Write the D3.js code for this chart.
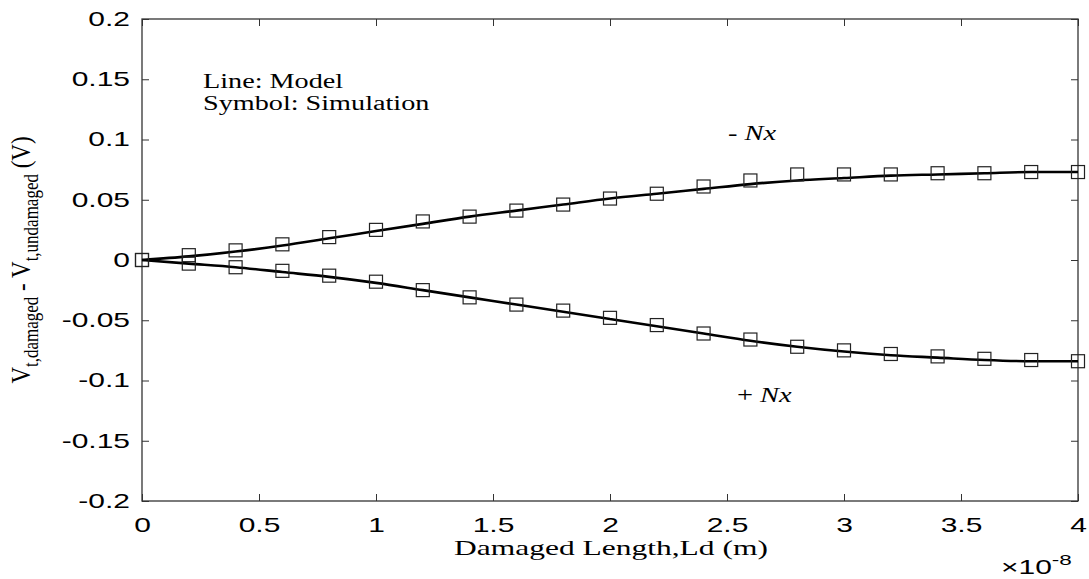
<!DOCTYPE html>
<html>
<head>
<meta charset="utf-8">
<script src="https://cdn.jsdelivr.net/npm/d3@7"></script>
<style>
  body { margin: 0; background: #fff; }
  .tick text { font-family: "Liberation Sans", Arial, sans-serif; font-size: 20px; fill: #000; }
  .serif { font-family: "Liberation Serif", "Times New Roman", serif; fill: #000; }
</style>
</head>
<body>
<svg id="chart" width="1089" height="579"></svg>
<script>
(function () {
  // damaged length, in units of 1e-8 m
  var lengths = [0, 0.2, 0.4, 0.6, 0.8, 1.0, 1.2, 1.4, 1.6, 1.8, 2.0,
    2.2, 2.4, 2.6, 2.8, 3.0, 3.2, 3.4, 3.6, 3.8, 4.0];

  // simulation (symbols)
  var simMinusNx = [0, 0.004, 0.008, 0.013, 0.019, 0.025, 0.032, 0.036, 0.041, 0.046, 0.051,
    0.055, 0.061, 0.066, 0.071, 0.071, 0.071, 0.072, 0.072, 0.073, 0.073];
  var simPlusNx = [0, -0.003, -0.006, -0.009, -0.013, -0.018, -0.025, -0.031, -0.037, -0.042, -0.048,
    -0.054, -0.061, -0.066, -0.072, -0.075, -0.078, -0.080, -0.082, -0.083, -0.084];

  // model (lines)
  var modelMinusNx = [0, 0.003, 0.007, 0.012, 0.018, 0.024, 0.030, 0.036, 0.041, 0.046, 0.051,
    0.055, 0.059, 0.063, 0.066, 0.068, 0.070, 0.071, 0.072, 0.073, 0.073];
  var modelPlusNx = [0, -0.003, -0.006, -0.010, -0.014, -0.019, -0.025, -0.031, -0.037, -0.043, -0.049,
    -0.055, -0.061, -0.067, -0.072, -0.076, -0.079, -0.081, -0.083, -0.084, -0.084];

  var xTicks = [0, 0.5, 1, 1.5, 2, 2.5, 3, 3.5, 4];
  var yTicks = [-0.2, -0.15, -0.1, -0.05, 0, 0.05, 0.1, 0.15, 0.2];

  var margin = { left: 142, top: 19 },
    width = 936,
    height = 482;

  var sx = 1.5; // the figure text is stretched horizontally

  var svg = d3.select("#chart");
  var chart = svg.append("g").attr("transform", `translate(${margin.left}, ${margin.top})`);

  var x = d3.scaleLinear().domain([0, 4]).range([0, width]);
  var y = d3.scaleLinear().domain([-0.2, 0.2]).range([height, 0]);

  var fmt = (d) => String(d);

  // axes (ticks pointing inward, mirrored on top and right)
  chart.append("g")
    .attr("transform", "translate(0," + height + ")")
    .call(d3.axisBottom(x).tickValues(xTicks).tickFormat(fmt).tickSize(-7).tickPadding(17))
    .call((g) => g.select(".domain").remove())
    .call((g) => g.selectAll("text").attr("transform", `scale(${sx},1)`));
  chart.append("g")
    .call(d3.axisTop(x).tickValues(xTicks).tickFormat("").tickSize(-7))
    .call((g) => g.select(".domain").remove());
  chart.append("g")
    .call(d3.axisLeft(y).tickValues(yTicks).tickFormat(fmt).tickSize(-7))
    .call((g) => g.select(".domain").remove())
    .call((g) => g.selectAll("text").attr("x", -12 / sx).attr("transform", `scale(${sx},1)`));
  chart.append("g")
    .attr("transform", "translate(" + width + ",0)")
    .call(d3.axisRight(y).tickValues(yTicks).tickFormat("").tickSize(-7))
    .call((g) => g.select(".domain").remove());

  chart.selectAll(".tick line").attr("stroke", "#333");

  // box
  chart.append("rect")
    .attr("width", width)
    .attr("height", height)
    .attr("fill", "none")
    .attr("stroke", "#333")
    .attr("stroke-width", 1.3);

  // model lines
  var line = d3.line()
    .x((d) => x(d[0]))
    .y((d) => y(d[1]))
    .curve(d3.curveMonotoneX);

  [modelMinusNx, modelPlusNx].forEach((vals) => {
    chart.append("path")
      .datum(lengths.map((l, i) => [l, vals[i]]))
      .attr("fill", "none")
      .attr("stroke", "#000")
      .attr("stroke-width", 2.6)
      .attr("d", line);
  });

  // simulation symbols
  var s = 13;
  [simMinusNx, simPlusNx].forEach((vals) => {
    chart.append("g")
      .selectAll("rect")
      .data(lengths.map((l, i) => [l, vals[i]]))
      .join("rect")
      .attr("x", (d) => x(d[0]) - s / 2)
      .attr("y", (d) => y(d[1]) - s / 2)
      .attr("width", s)
      .attr("height", s)
      .attr("fill", "none")
      .attr("stroke", "#222")
      .attr("stroke-width", 1.2);
  });

  // stretched text helper
  function label(parent, px, py, size, k) {
    return parent.append("text").attr("class", "serif")
      .attr("transform", `translate(${px},${py}) scale(${k},1)`)
      .attr("font-size", size);
  }

  // annotations (svg coordinates)
  label(svg, 203, 88, 20, 1.41).text("Line: Model");
  label(svg, 203, 110, 20, 1.41).text("Symbol: Simulation");

  var t1 = label(svg, 728, 140, 20, 1.42);
  t1.append("tspan").text("- ");
  t1.append("tspan").attr("font-style", "italic").text("Nx");

  var t2 = label(svg, 737, 402, 20, 1.42);
  t2.append("tspan").text("+ ");
  t2.append("tspan").attr("font-style", "italic").text("Nx");

  // x axis title
  label(svg, margin.left + width / 2 + 1, 555, 21, sx)
    .attr("text-anchor", "middle")
    .text("Damaged Length,Ld (m)");

  // exponent label
  var ex = svg.append("text")
    .attr("transform", `translate(1001,574) scale(${sx},1)`)
    .attr("font-family", "Liberation Sans, Arial, sans-serif")
    .attr("font-size", 20);
  ex.append("tspan").text("\u00d710");
  ex.append("tspan").attr("dy", -9).attr("font-size", 15).text("-8");

  // y axis title
  var yl = svg.append("text").attr("class", "serif")
    .attr("transform", "translate(30," + (margin.top + height / 2) + ") rotate(-90) scale(1,1.2)")
    .attr("text-anchor", "middle")
    .attr("font-size", 23);
  yl.append("tspan").text("V");
  yl.append("tspan").attr("dy", 7).attr("font-size", 17).text("t,damaged");
  yl.append("tspan").attr("dy", -7).text(" - V");
  yl.append("tspan").attr("dy", 7).attr("font-size", 17).text("t,undamaged");
  yl.append("tspan").attr("dy", -7).text(" (V)");
})();
</script>
</body>
</html>
